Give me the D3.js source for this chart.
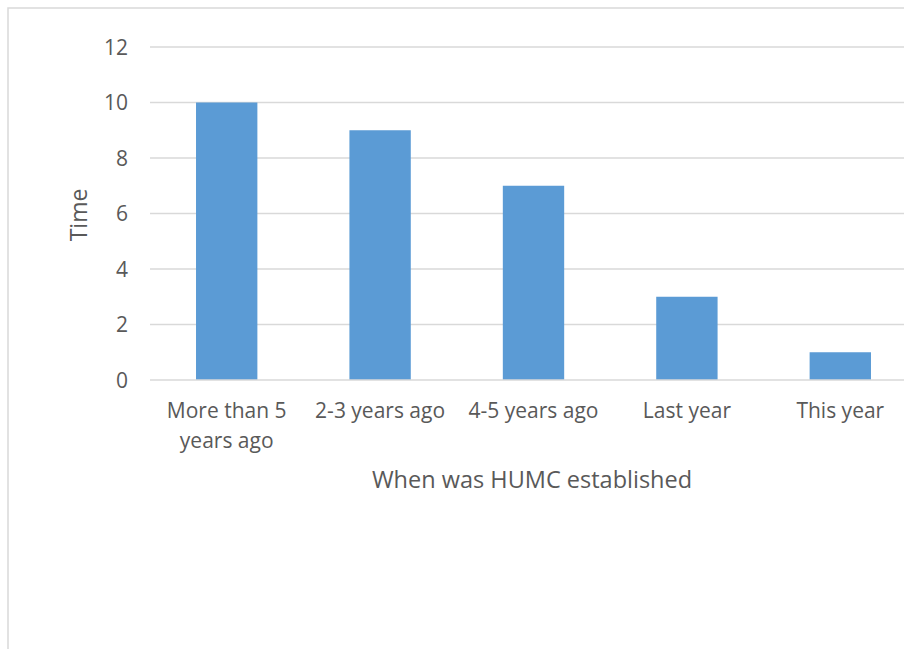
<!DOCTYPE html>
<html>
<head>
<meta charset="utf-8">
<script src="https://cdn.jsdelivr.net/npm/d3@7"></script>
<style>
  html, body { margin: 0; padding: 0; background: #fff; }
  svg { display: block; }
  text { font-family: "Open Sans", "Liberation Sans", sans-serif; fill: #595959; }
</style>
</head>
<body>
<svg id="chart" width="904" height="649"></svg>
<script>
// Responses: when the HUMC was established
const categories = [["More than 5", "years ago"], ["2-3 years ago"], ["4-5 years ago"], ["Last year"], ["This year"]];
const values = [10, 9, 7, 3, 1];
const yTicks = [0, 2, 4, 6, 8, 10, 12];
const yTitle = "Time";
const xTitle = "When was HUMC established";

const svg = d3.select("#chart");
const W = 904, H = 649;

// chart area frame (extends past the right and bottom edges)
svg.append("rect")
  .attr("x", 8).attr("y", 8)
  .attr("width", W + 20).attr("height", H + 20)
  .attr("fill", "#fff").attr("stroke", "#d9d9d9").attr("stroke-width", 1.5);

const plot = { left: 150, right: 917, top: 47, bottom: 380 };

const x = d3.scaleBand()
  .domain(d3.range(categories.length))
  .range([plot.left, plot.right])
  .paddingInner(0.6).paddingOuter(0.3);

const y = d3.scaleLinear().domain([0, 12]).range([plot.bottom, plot.top]);

// gridlines
svg.append("g").selectAll("line").data(yTicks.filter(d => d > 0)).join("line")
  .attr("x1", plot.left).attr("x2", plot.right)
  .attr("y1", d => y(d)).attr("y2", d => y(d))
  .attr("stroke", "#d9d9d9").attr("stroke-width", 1.3);

// y tick labels
svg.append("g").selectAll("text").data(yTicks).join("text")
  .attr("x", 128).attr("y", d => y(d))
  .attr("dy", "0.36em")
  .attr("text-anchor", "end")
  .style("font-size", "21px")
  .text(d => d);

// bars
svg.append("g").selectAll("rect").data(values).join("rect")
  .attr("x", (d, i) => x(i))
  .attr("width", x.bandwidth())
  .attr("y", d => y(d))
  .attr("height", d => y(0) - y(d))
  .attr("fill", "#5b9bd5");

// baseline
svg.append("line")
  .attr("x1", plot.left).attr("x2", plot.right)
  .attr("y1", y(0)).attr("y2", y(0))
  .attr("stroke", "#d9d9d9").attr("stroke-width", 1.5);

// category labels
const cat = svg.append("g").selectAll("text").data(categories).join("text")
  .attr("text-anchor", "middle")
  .style("font-size", "21px")
  .attr("transform", (d, i) => `translate(${x(i) + x.bandwidth() / 2},${y(0) + 38})`);
cat.selectAll("tspan").data(d => d).join("tspan")
  .attr("x", 0).attr("dy", (d, j) => j === 0 ? 0 : 30)
  .text(d => d);

// axis titles
svg.append("text")
  .attr("transform", `translate(87,215) rotate(-90)`)
  .attr("text-anchor", "middle")
  .style("font-size", "23px")
  .text(yTitle);

svg.append("text")
  .attr("x", 532).attr("y", 488)
  .attr("text-anchor", "middle")
  .style("font-size", "23.5px")
  .text(xTitle);
</script>
</body>
</html>
